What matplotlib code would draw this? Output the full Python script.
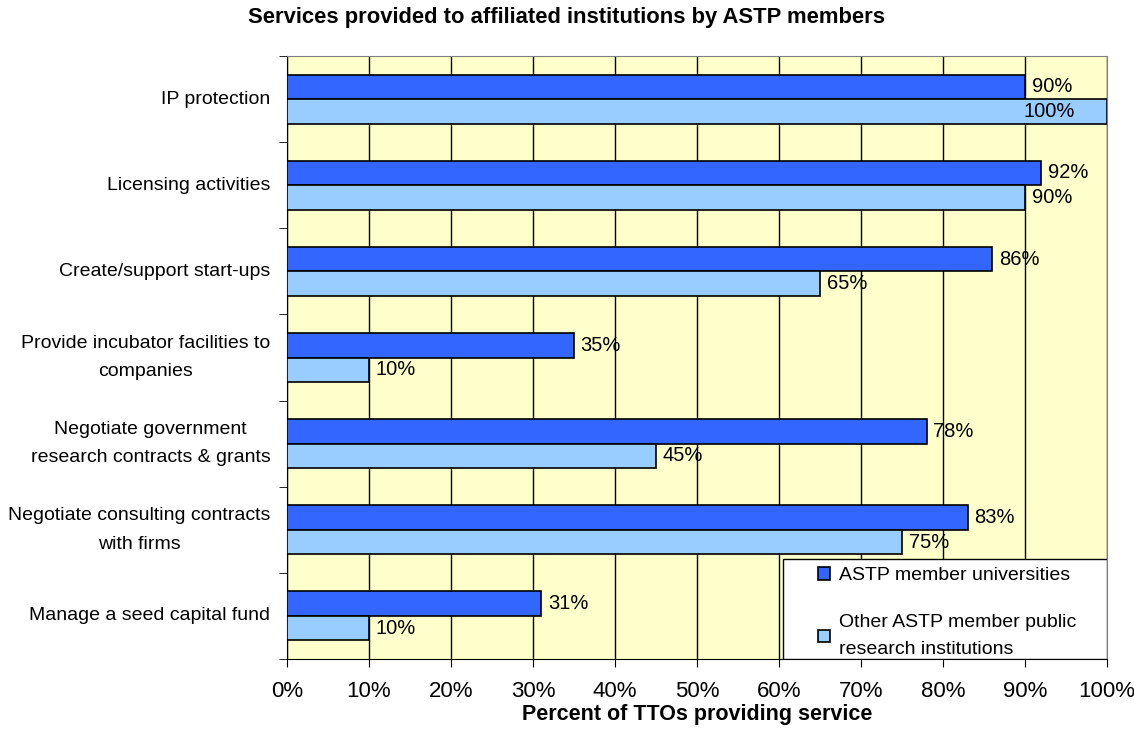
import numpy as np
import matplotlib.pyplot as plt
from matplotlib.patches import Rectangle

plt.rcParams['font.family'] = ['Liberation Sans', 'DejaVu Sans']

services = [
    "IP protection",
    "Licensing activities",
    "Create/support start-ups",
    "Provide incubator facilities to\ncompanies",
    "Negotiate government\nresearch contracts & grants",
    "Negotiate consulting contracts\nwith firms",
    "Manage a seed capital fund",
]
universities = [90, 92, 86, 35, 78, 83, 31]
other_pri = [100, 90, 65, 10, 45, 75, 10]

dark_blue = "#3366FF"
light_blue = "#99CCFF"

fig = plt.figure(figsize=(11.34, 7.31), dpi=100)
ax = fig.add_axes([287 / 1134, 72 / 731, 820 / 1134, 603 / 731])
ax.set_facecolor("#FFFFCC")

y = np.arange(len(services))
h = 0.285

ax.barh(y - h / 2, universities, height=h, color=dark_blue, edgecolor="black",
        linewidth=1.2, label="ASTP member universities", zorder=3)
ax.barh(y + h / 2, other_pri, height=h, color=light_blue, edgecolor="black",
        linewidth=1.2, label="Other ASTP member public\nresearch institutions", zorder=3)

# value labels (100% doesn't fit outside, Excel pushes it inside)
for i in range(len(services)):
    for val, off in [(universities[i], -h / 2), (other_pri[i], h / 2)]:
        if val >= 100:
            ax.text(val - 3.9, i + off, f"{val}%", ha="right", va="center",
                    fontsize=14.5, zorder=4)
        else:
            ax.text(val + 0.8, i + off, f"{val}%", ha="left", va="center",
                    fontsize=14.5, zorder=4)

ax.set_xlim(0, 100)
ax.set_ylim(len(services) - 0.5, -0.5)
ax.set_xticks(np.arange(0, 101, 10))
ax.set_xticklabels([f"{v}%" for v in range(0, 101, 10)], fontsize=16)
ax.xaxis.grid(True, color="black", linewidth=1, zorder=1)
ax.set_axisbelow(True)
ax.tick_params(axis="x", length=6, direction="out", pad=10)

# category labels at centres, tick marks at boundaries
ax.tick_params(axis="y", length=0, pad=12)
ax.set_yticks(y)
ax.set_yticklabels(services, fontsize=14, linespacing=1.9,
                   multialignment="center", va="center")
ax.set_yticks(np.arange(len(services) + 1) - 0.5, minor=True)
ax.tick_params(axis="y", which="minor", length=6, direction="out", color="black")

for s in ["top", "right"]:
    ax.spines[s].set_color("#808080")
ax.spines["left"].set_color("black")
ax.spines["bottom"].set_color("black")

ax.set_xlabel("Percent of TTOs providing service", fontsize=15.5, fontweight="bold",
              labelpad=1)

# legend box (white, bottom right corner of the plot area)
box = Rectangle(((783 - 287) / 820, 0), (1107 - 783) / 820, 100 / 603,
                transform=ax.transAxes, facecolor="white", edgecolor="black",
                linewidth=1, zorder=5)
ax.add_patch(box)

leg = ax.legend(loc="upper left", bbox_to_anchor=((818 - 287) / 820, 92 / 603),
                borderaxespad=0, borderpad=0, frameon=False, fontsize=14,
                handlelength=0.62, handleheight=0.62, handletextpad=0.45,
                labelspacing=1.56)
for t in leg.get_texts():
    t.set_linespacing(1.75)
leg.set_zorder(6)

fig.text(0.5, 1 - 18 / 731, "Services provided to affiliated institutions by ASTP members",
         ha="center", va="center", fontsize=15.8, fontweight="bold")

fig.savefig("out.png", dpi=100)
